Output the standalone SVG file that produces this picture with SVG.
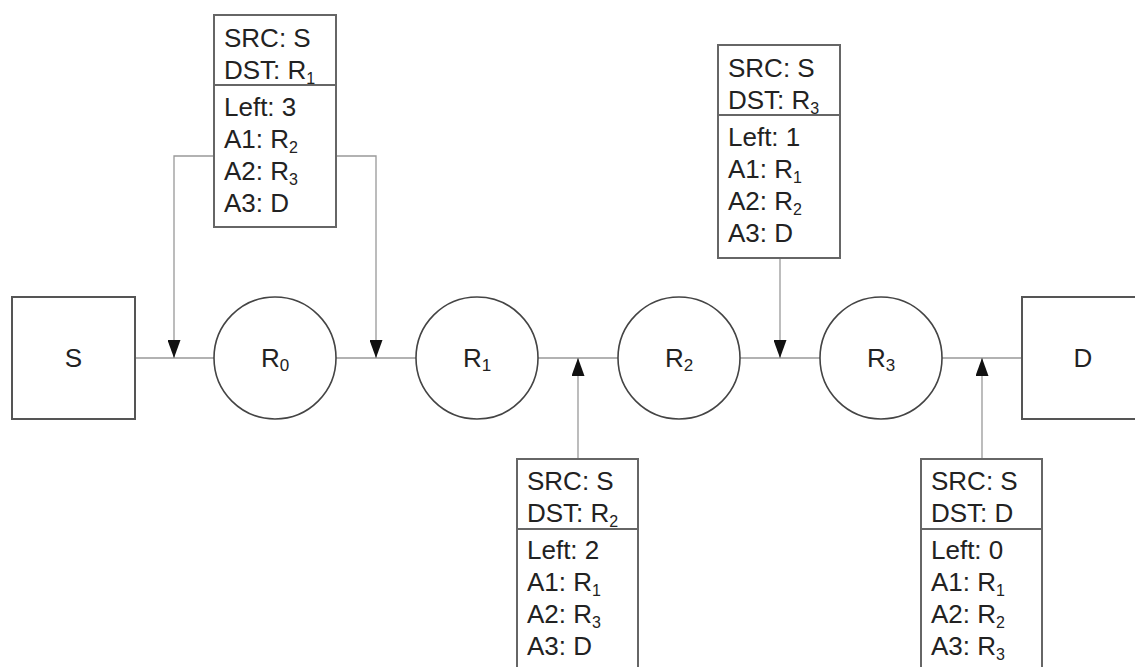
<svg xmlns="http://www.w3.org/2000/svg" width="1135" height="667" viewBox="0 0 1135 667">
<style>
.box{fill:#fff;stroke:#666;stroke-width:2}
.div{stroke:#666;stroke-width:2}
.node{fill:#fff;stroke:#555;stroke-width:2}
.circ{fill:#fff;stroke:#444;stroke-width:1.6}
.con{fill:none;stroke:#999;stroke-width:1.3}
.t{font-family:"Liberation Sans",Arial,sans-serif;font-size:26px;fill:#222}
.c{text-anchor:middle}
</style>
<defs>
<marker id="arr" viewBox="0 0 18 13" refX="18" refY="6.5" markerWidth="18" markerHeight="13" markerUnits="userSpaceOnUse" orient="auto">
<path d="M0,0 L18,6.5 L0,13 z" fill="#111"/>
</marker>
</defs>
<rect width="1135" height="667" fill="#fff"/>
<g id="connectors">
<path class="con" d="M135,358 H214"/>
<path class="con" d="M336,358 H416"/>
<path class="con" d="M538,358 H618"/>
<path class="con" d="M740,358 H820"/>
<path class="con" d="M942,358 H1022"/>
<path class="con" d="M214,156 H174 V358" marker-end="url(#arr)"/>
<path class="con" d="M336,156 H376 V358" marker-end="url(#arr)"/>
<path class="con" d="M780,258 V358" marker-end="url(#arr)"/>
<path class="con" d="M578,459 V358" marker-end="url(#arr)"/>
<path class="con" d="M982,459 V358" marker-end="url(#arr)"/>
</g>
<g id="S">
<rect class="node" x="12" y="297" width="123" height="122"/>
<text class="t c" x="73.5" y="367">S</text>
</g>
<g id="R0">
<circle class="circ" cx="275" cy="358" r="61"/>
<text class="t c" x="275" y="367">R<tspan font-size="17" dy="4">0</tspan></text>
</g>
<g id="R1">
<circle class="circ" cx="477" cy="358" r="61"/>
<text class="t c" x="477" y="367">R<tspan font-size="17" dy="4">1</tspan></text>
</g>
<g id="R2">
<circle class="circ" cx="679" cy="358" r="61"/>
<text class="t c" x="679" y="367">R<tspan font-size="17" dy="4">2</tspan></text>
</g>
<g id="R3">
<circle class="circ" cx="881" cy="358" r="61"/>
<text class="t c" x="881" y="367">R<tspan font-size="17" dy="4">3</tspan></text>
</g>
<g id="D">
<rect class="node" x="1022" y="297" width="123" height="122"/>
<text class="t c" x="1083" y="367">D</text>
</g>
<g id="pkt1">
<rect class="box" x="214" y="15" width="122" height="212"/>
<line class="div" x1="214" y1="85" x2="336" y2="85"/>
<text class="t" x="224" y="47">SRC: S</text>
<text class="t" x="224" y="79">DST: R<tspan font-size="16" dy="5">1</tspan></text>
<text class="t" x="224" y="116">Left: 3</text>
<text class="t" x="224" y="148">A1: R<tspan font-size="16" dy="5">2</tspan></text>
<text class="t" x="224" y="180">A2: R<tspan font-size="16" dy="5">3</tspan></text>
<text class="t" x="224" y="212">A3: D</text>
</g>
<g id="pkt3">
<rect class="box" x="718" y="45" width="122" height="213"/>
<line class="div" x1="718" y1="115" x2="840" y2="115"/>
<text class="t" x="728" y="77">SRC: S</text>
<text class="t" x="728" y="109">DST: R<tspan font-size="16" dy="5">3</tspan></text>
<text class="t" x="728" y="146">Left: 1</text>
<text class="t" x="728" y="178">A1: R<tspan font-size="16" dy="5">1</tspan></text>
<text class="t" x="728" y="210">A2: R<tspan font-size="16" dy="5">2</tspan></text>
<text class="t" x="728" y="242">A3: D</text>
</g>
<g id="pkt2">
<rect class="box" x="517" y="459" width="121" height="215"/>
<line class="div" x1="517" y1="529" x2="638" y2="529"/>
<text class="t" x="527" y="490">SRC: S</text>
<text class="t" x="527" y="522">DST: R<tspan font-size="16" dy="5">2</tspan></text>
<text class="t" x="527" y="559">Left: 2</text>
<text class="t" x="527" y="591">A1: R<tspan font-size="16" dy="5">1</tspan></text>
<text class="t" x="527" y="623">A2: R<tspan font-size="16" dy="5">3</tspan></text>
<text class="t" x="527" y="655">A3: D</text>
</g>
<g id="pkt4">
<rect class="box" x="921" y="459" width="121" height="215"/>
<line class="div" x1="921" y1="529" x2="1042" y2="529"/>
<text class="t" x="931" y="490">SRC: S</text>
<text class="t" x="931" y="522">DST: D</text>
<text class="t" x="931" y="559">Left: 0</text>
<text class="t" x="931" y="591">A1: R<tspan font-size="16" dy="5">1</tspan></text>
<text class="t" x="931" y="623">A2: R<tspan font-size="16" dy="5">2</tspan></text>
<text class="t" x="931" y="655">A3: R<tspan font-size="16" dy="5">3</tspan></text>
</g>
</svg>
